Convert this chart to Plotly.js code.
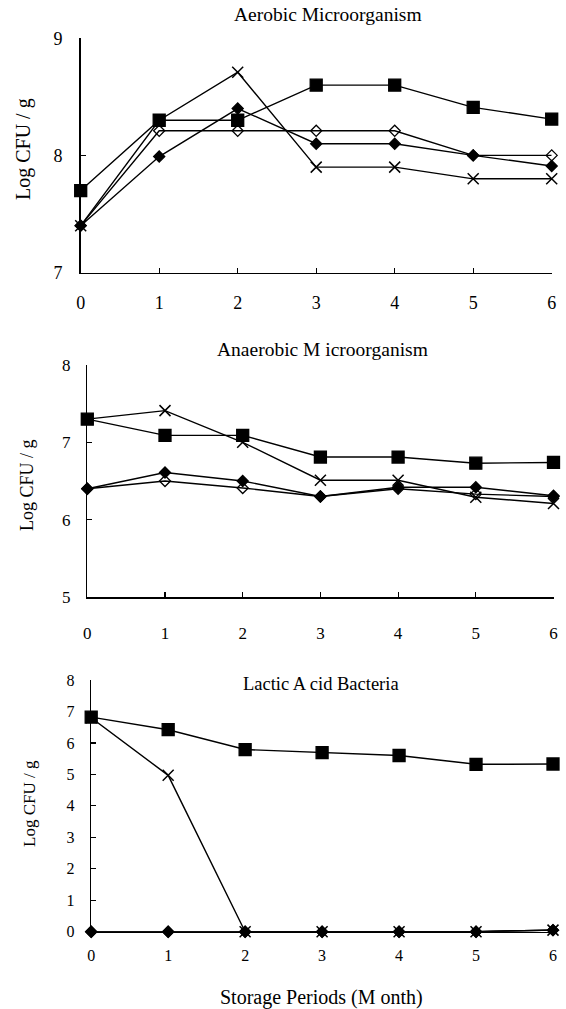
<!DOCTYPE html>
<html>
<head>
<meta charset="utf-8">
<script src="https://cdn.plot.ly/plotly-3.0.1.min.js"></script>
<style>html,body{margin:0;padding:0;background:#fff;}#chart{width:566px;height:1009px;}</style>
</head>
<body>
<div id="chart"></div>
<script>
// Storage periods (months)
const months = [0, 1, 2, 3, 4, 5, 6];
const tickVals = [0, 1, 2, 3, 4, 5, 6];
const tickText = ['0', '1', '2', '3', '4', '5', '6'];

// Panel titles
const titleAerobic = 'Aerobic Microorganism';
const titleAnaerobic = 'Anaerobic M icroorganism';
const titleLactic = 'Lactic A cid Bacteria';
const yTitle = 'Log CFU / g';
const xTitle = 'Storage Periods (M onth)';

// Aerobic microorganism (Log CFU/g)
const aerobicSquare = [7.70, 8.30, 8.30, 8.60, 8.60, 8.41, 8.31];
const aerobicOpenDiamond = [7.40, 8.21, 8.21, 8.21, 8.21, 8.00, 8.00];
const aerobicDiamond = [7.40, 7.99, 8.40, 8.10, 8.10, 8.00, 7.91];
const aerobicCross = [7.40, 8.30, 8.71, 7.90, 7.90, 7.80, 7.80];

// Anaerobic microorganism (Log CFU/g)
const anaerobicSquare = [7.30, 7.09, 7.09, 6.81, 6.81, 6.73, 6.74];
const anaerobicOpenDiamond = [6.40, 6.50, 6.41, 6.30, 6.40, 6.33, 6.30];
const anaerobicDiamond = [6.40, 6.61, 6.50, 6.30, 6.42, 6.42, 6.31];
const anaerobicCross = [7.30, 7.41, 7.00, 6.51, 6.51, 6.29, 6.21];

// Lactic acid bacteria (Log CFU/g)
const lacticSquare = [6.82, 6.42, 5.79, 5.69, 5.60, 5.32, 5.33];
const lacticOpenDiamond = [0, 0, 0, 0, 0, 0, 0.05];
const lacticDiamond = [0, 0, 0, 0, 0, 0, 0.05];
const lacticCross = [6.80, 4.97, 0, 0, 0, 0, 0.05];

const FONT = '"Liberation Serif", "Times New Roman", serif';
const LW = 1.4;

function series(y, kind, xa, ya) {
  const m = {color: '#000', line: {color: '#000', width: 1.3}};
  if (kind === 'square') { m.symbol = 'square'; m.size = 12; }
  if (kind === 'diamond') { m.symbol = 'diamond'; m.size = 8.5; }
  if (kind === 'open') { m.symbol = 'diamond-open'; m.size = 8.5; m.line.width = 1.3; m.color = '#000'; }
  if (kind === 'cross') { m.symbol = 'x-thin-open'; m.size = 11; m.line.width = 1.5; }
  return {
    x: months, y: y, xaxis: xa, yaxis: ya, type: 'scatter', mode: 'lines+markers',
    line: {color: '#000', width: LW}, marker: m, cliponaxis: false, showlegend: false,
    hoverinfo: 'x+y'
  };
}

const data = [
  series(aerobicCross, 'cross', 'x', 'y'),
  series(aerobicOpenDiamond, 'open', 'x', 'y'),
  series(aerobicDiamond, 'diamond', 'x', 'y'),
  series(aerobicSquare, 'square', 'x', 'y'),

  series(anaerobicCross, 'cross', 'x2', 'y2'),
  series(anaerobicOpenDiamond, 'open', 'x2', 'y2'),
  series(anaerobicDiamond, 'diamond', 'x2', 'y2'),
  series(anaerobicSquare, 'square', 'x2', 'y2'),

  series(lacticOpenDiamond, 'open', 'x3', 'y3'),
  series(lacticCross, 'cross', 'x3', 'y3'),
  series(lacticDiamond, 'diamond', 'x3', 'y3'),
  series(lacticSquare, 'square', 'x3', 'y3')
];

function xax(domain, anchor, standoff, size) {
  return {
    domain: domain, anchor: anchor, range: [0, 6], tickvals: tickVals, ticktext: tickText,
    showgrid: false, zeroline: false, showline: true, linecolor: '#000', linewidth: 1.5,
    ticks: 'inside', ticklen: 5, tickwidth: 1.2, tickcolor: '#000',
    ticklabelstandoff: standoff,
    tickfont: {family: FONT, size: size, color: '#000'}, fixedrange: true
  };
}
function yax(domain, anchor, range, dtick, standoff, size) {
  return {
    domain: domain, anchor: anchor, range: range, dtick: dtick, tick0: 0,
    showgrid: false, zeroline: false, showline: true, linecolor: '#000', linewidth: 1.5,
    ticks: 'inside', ticklen: 5, tickwidth: 1.2, tickcolor: '#000',
    ticklabelstandoff: standoff,
    tickfont: {family: FONT, size: size, color: '#000'}, fixedrange: true
  };
}

const W = 566, H = 1009;
const px = v => v / W;
const py = v => 1 - v / H;

const layout = {
  width: W, height: H,
  margin: {l: 0, r: 0, t: 0, b: 0, pad: 0},
  paper_bgcolor: '#fff', plot_bgcolor: '#fff',
  font: {family: FONT, color: '#000'},
  xaxis: xax([px(80.7), px(551.7)], 'y', 13, 18),
  yaxis: yax([py(272.5), py(38.3)], 'x', [7, 9], 1, 13, 18),
  xaxis2: xax([px(87.3), px(553.5)], 'y2', 20, 17),
  yaxis2: yax([py(597), py(365)], 'x2', [5, 8], 1, 12, 17),
  xaxis3: xax([px(91.2), px(553)], 'y3', 9, 16),
  yaxis3: yax([py(931.7), py(680)], 'x3', [0, 8], 1, 12, 16),
  annotations: [
    {text: titleAerobic, xref: 'paper', yref: 'paper', x: px(328), y: py(15), showarrow: false, font: {size: 19.5, family: FONT}, xanchor: 'center', yanchor: 'middle'},
    {text: titleAnaerobic, xref: 'paper', yref: 'paper', x: px(322), y: py(350), showarrow: false, font: {size: 19.5, family: FONT}, xanchor: 'center', yanchor: 'middle'},
    {text: titleLactic, xref: 'paper', yref: 'paper', x: px(321), y: py(684), showarrow: false, font: {size: 18.5, family: FONT}, xanchor: 'center', yanchor: 'middle'},
    {text: yTitle, xref: 'paper', yref: 'paper', x: px(23), y: py(149), showarrow: false, textangle: -90, font: {size: 20, family: FONT}, xanchor: 'center', yanchor: 'middle'},
    {text: yTitle, xref: 'paper', yref: 'paper', x: px(27), y: py(485), showarrow: false, textangle: -90, font: {size: 18, family: FONT}, xanchor: 'center', yanchor: 'middle'},
    {text: yTitle, xref: 'paper', yref: 'paper', x: px(29), y: py(804), showarrow: false, textangle: -90, font: {size: 17, family: FONT}, xanchor: 'center', yanchor: 'middle'},
    {text: xTitle, xref: 'paper', yref: 'paper', x: px(321), y: py(997), showarrow: false, font: {size: 20, family: FONT}, xanchor: 'center', yanchor: 'middle'}
  ]
};

Plotly.newPlot('chart', data, layout, {staticPlot: true, displayModeBar: false});
</script>
</body>
</html>
